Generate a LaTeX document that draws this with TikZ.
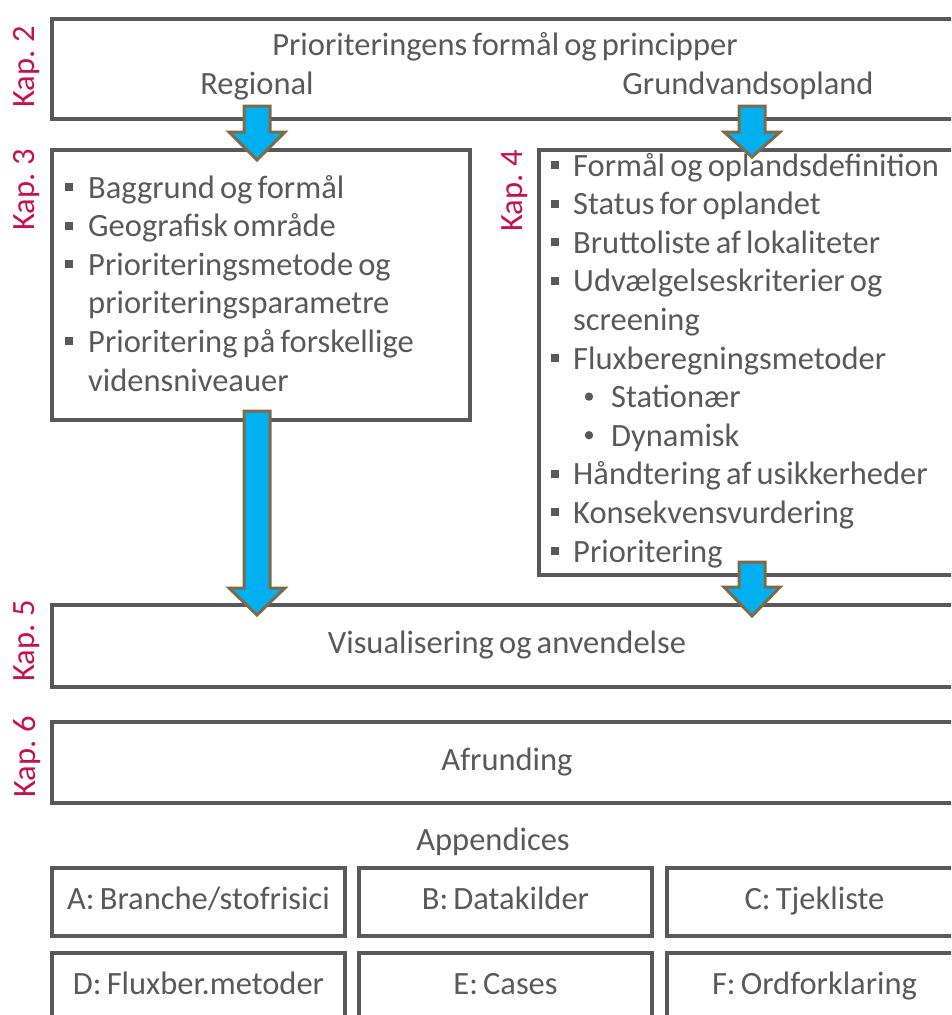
\documentclass[tikz,border=0pt]{standalone}
\usepackage{fontspec}
\setmainfont{Carlito}[WordSpace=0.7]
\definecolor{txt}{HTML}{595959}
\definecolor{kap}{HTML}{C8104E}
\definecolor{arrfill}{HTML}{00B0F0}
\definecolor{arredge}{HTML}{7F6A48}
\newcommand\bigtext{\fontsize{32.5}{38.6}\selectfont}
% square list bullet
\newcommand\sqbul{\textcolor{txt}{\rule{8pt}{8pt}}}
% block arrow pointing down: centre x, shaft top, head top, tip
\newcommand\DownArrow[4]{%
  \draw[blockarrow] (#1-13,#2) -- (#1+13,#2) -- (#1+13,#3) -- (#1+28,#3)
    -- (#1,#4) -- (#1-28,#3) -- (#1-13,#3) -- cycle;}
\begin{document}
\begin{tikzpicture}[x=1pt,y=-1pt,
  frame/.style={draw=txt, line width=4pt, rectangle, inner sep=0pt,
    anchor=north west, text=txt, font=\bigtext, text height=22pt, text depth=7pt},
  label/.style={text=txt, font=\bigtext, inner sep=0pt},
  item/.style={text=txt, font=\bigtext, inner sep=0pt, anchor=base west},
  bul/.style={inner sep=0pt, anchor=center},
  kaplabel/.style={text=kap, font=\bigtext, rotate=90, inner sep=0pt},
  blockarrow/.style={fill=arrfill, draw=arredge, line width=3pt, line join=miter}]
\useasboundingbox (0,0) rectangle (951,1015);
\clip (0,0) rectangle (951,1015);

% chapter frames
\node[frame, minimum width=910pt, minimum height=100pt] (k2) at (50,17) {};
\node[frame, minimum width=418pt, minimum height=270pt] (k3) at (50,148) {};
\node[frame, minimum width=423pt, minimum height=425pt] (k4) at (537,148) {};
\node[frame, minimum width=910pt, minimum height=82pt] (k5) at (50,603) {Visualisering og anvendelse};
\node[frame, minimum width=910pt, minimum height=81pt] (k6) at (50,720) {Afrunding};

% chapter labels
\node[kaplabel] (kap2) at (27,67) {Kap. 2};
\node[kaplabel] (kap3) at (27,190) {Kap. 3};
\node[kaplabel] (kap4) at (515,191) {Kap. 4};
\node[kaplabel] (kap5) at (27,641) {Kap. 5};
\node[kaplabel] (kap6) at (27,757) {Kap. 6};

% chapter 2 texts
\node[label] (title) at (505,47) {Prioriteringens formål og principper};
\node[label] (regional) at (257,86) {Regional};
\node[label] (grund) at (748,86) {Grundvandsopland};

% chapter 3 list
\foreach \t/\b [count=\i] in {Baggrund og formål/1, Geografisk område/1,
    Prioriteringsmetode og/1, prioriteringsparametre/0,
    Prioritering på forskellige/1, vidensniveauer/0} {
  \node[item] (k3l\i) at (88,{198+38.6*(\i-1)}) {\t};
  \ifnum\b=1 \node[bul] (k3b\i) at (69,{198+38.6*(\i-1)-11}) {\sqbul}; \fi
}

% chapter 4 list (b: 1 square bullet, 2 round sub-bullet, 0 continuation)
\foreach \t/\b [count=\i] in {Formål og oplandsdefinition/1, Status for oplandet/1,
    Bruttoliste af lokaliteter/1, Udvælgelseskriterier og/1, screening/0,
    Fluxberegningsmetoder/1, Stationær/2, Dynamisk/2,
    Håndtering af usikkerheder/1, Konsekvensvurdering/1, Prioritering/1} {
  \ifnum\b=2
    \node[item] (k4l\i) at (611,{176+38.6*(\i-1)}) {\t};
    \fill[txt] (589,{176+38.6*(\i-1)-11}) circle (4.2pt);
  \else
    \node[item] (k4l\i) at (573,{176+38.6*(\i-1)}) {\t};
    \ifnum\b=1 \node[bul] (k4b\i) at (555,{176+38.6*(\i-1)-11}) {\sqbul}; \fi
  \fi
}

% appendices
\node[label] (app) at (493,842) {Appendices};
\node[frame, minimum width=293pt, minimum height=68pt] (apA) at (50,866) {A: Branche/stofrisici};
\node[frame, minimum width=293pt, minimum height=68pt] (apB) at (357,866) {B: Datakilder};
\node[frame, minimum width=295pt, minimum height=68pt] (apC) at (665,866) {C: Tjekliste};
\node[frame, minimum width=293pt, minimum height=68pt] (apD) at (50,951) {D: Fluxber.metoder};
\node[frame, minimum width=293pt, minimum height=68pt] (apE) at (357,951) {E: Cases};
\node[frame, minimum width=295pt, minimum height=68pt] (apF) at (665,951) {F: Ordforklaring};

% flow arrows
\DownArrow{257}{106}{132}{160}
\DownArrow{257}{411}{588}{615}
\DownArrow{752}{106}{132}{157}
\DownArrow{752}{562}{587}{616}
\end{tikzpicture}
\end{document}
